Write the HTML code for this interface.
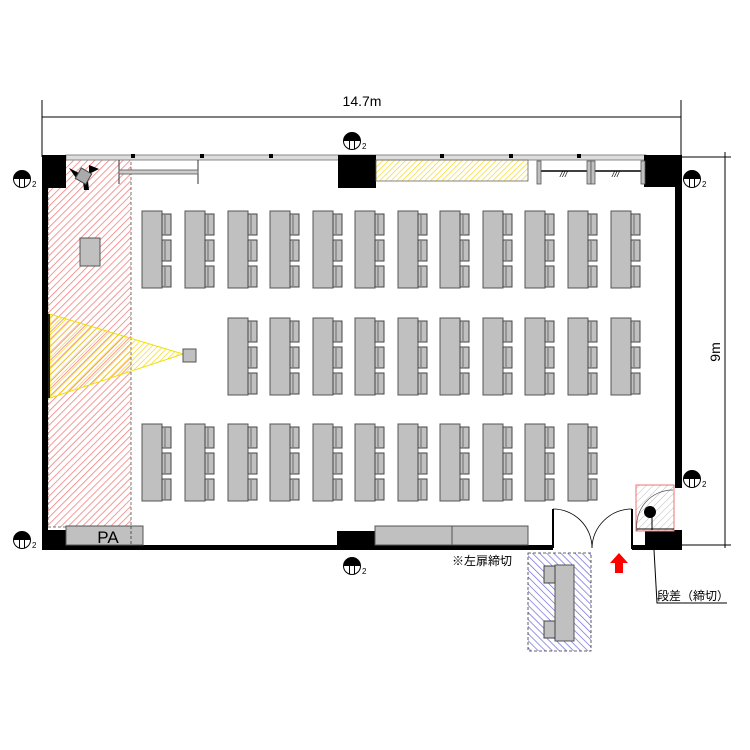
<!DOCTYPE html>
<html><head><meta charset="utf-8"><style>body{margin:0;background:#fff}svg{display:block}</style></head><body>
<svg width="750" height="750" viewBox="0 0 750 750" xmlns="http://www.w3.org/2000/svg" font-family="Liberation Sans, Noto Sans CJK JP, sans-serif">
<defs>
<pattern id="hr" width="5" height="5" patternUnits="userSpaceOnUse" patternTransform="rotate(45)"><rect width="5" height="5" fill="#fff"/><line x1="0" y1="0" x2="0" y2="5" stroke="#f08080" stroke-width="1.6"/></pattern>
<pattern id="hy" width="4" height="4" patternUnits="userSpaceOnUse" patternTransform="rotate(45)"><line x1="0" y1="0" x2="0" y2="4" stroke="#f5d000" stroke-width="1.2"/></pattern>
<pattern id="hb" width="5" height="5" patternUnits="userSpaceOnUse" patternTransform="rotate(-45)"><rect width="5" height="5" fill="#fff"/><line x1="0" y1="0" x2="0" y2="5" stroke="#6a6adf" stroke-width="1.4"/></pattern>
<pattern id="hg" width="5" height="5" patternUnits="userSpaceOnUse" patternTransform="rotate(45)"><rect width="5" height="5" fill="#fff"/><line x1="0" y1="0" x2="0" y2="5" stroke="#bbb" stroke-width="1"/></pattern>
<g id="desk">
<rect x="0" y="0" width="20" height="77" fill="#c0c0c0" stroke="#555" stroke-width="1"/>
<g fill="#c0c0c0" stroke="#444" stroke-width="1">
<rect x="20" y="3" width="9" height="21"/><rect x="20" y="29" width="9" height="21"/><rect x="20" y="55" width="9" height="21"/>
</g>
<g stroke="#555" stroke-width="0.8"><line x1="23" y1="4" x2="23" y2="23"/><line x1="23" y1="30" x2="23" y2="49"/><line x1="23" y1="56" x2="23" y2="75"/></g>
</g>
<g id="col">
<circle cx="0" cy="0" r="8.5" fill="#fff" stroke="#000" stroke-width="1"/>
<path d="M-8.5,0 A8.5,8.5 0 0 1 8.5,0 Z" fill="#000"/>
<line x1="-2.5" y1="0" x2="-2.5" y2="8" stroke="#000"/><line x1="2.5" y1="0" x2="2.5" y2="8" stroke="#000"/>
<text x="10" y="8" font-size="8">2</text>
</g>
</defs>

<!-- dimensions -->
<g stroke="#000" stroke-width="1">
<line x1="42" y1="100" x2="42" y2="157"/><line x1="681" y1="100" x2="681" y2="157"/>
<line x1="42" y1="117" x2="681" y2="117"/>
<line x1="682" y1="157" x2="731" y2="157"/><line x1="682" y1="545" x2="731" y2="545"/>
<line x1="725" y1="152" x2="725" y2="548"/>
</g>
<text x="362" y="106" font-size="14" text-anchor="middle">14.7m</text>
<text transform="translate(720,352) rotate(-90)" font-size="14" text-anchor="middle">9m</text>

<!-- red zone -->
<rect x="48" y="160" width="83" height="367" fill="url(#hr)" stroke="#777" stroke-dasharray="3,2" stroke-width="1"/>
<rect x="80" y="238" width="20" height="28" fill="#c0c0c0" stroke="#555"/>
<!-- projection -->
<polygon points="50,314 50,398 183,354" fill="url(#hy)" stroke="#f0e000" stroke-width="1"/>
<rect x="183" y="349" width="13" height="13" fill="#c0c0c0" stroke="#555"/>
<rect x="46" y="314" width="4" height="84" fill="#222"/>

<!-- top window line -->
<rect x="66" y="155" width="580" height="5" fill="#ddd" stroke="#888" stroke-width="1"/>
<g fill="#000"><rect x="131" y="154" width="4" height="4"/><rect x="200" y="154" width="4" height="4"/><rect x="269" y="154" width="4" height="4"/><rect x="440" y="154" width="4" height="4"/><rect x="509" y="154" width="4" height="4"/><rect x="577" y="154" width="4" height="4"/></g>
<!-- walls -->
<rect x="42" y="155" width="24" height="33" fill="#000"/>
<rect x="42" y="155" width="6" height="395" fill="#000"/>
<rect x="338" y="155" width="38" height="33" fill="#000"/>
<rect x="644" y="155" width="38" height="32" fill="#000"/>
<rect x="675" y="155" width="7" height="333" fill="#000"/>
<rect x="42" y="545" width="511" height="5" fill="#000"/>
<rect x="48" y="530" width="18" height="16" fill="#000"/>
<rect x="337" y="531" width="38" height="15" fill="#000"/>
<rect x="632" y="545" width="50" height="5" fill="#000"/>
<rect x="645" y="530" width="37" height="20" fill="#000"/>

<!-- top-left curtain/camera -->
<g stroke="#333" stroke-width="1"><line x1="119" y1="160" x2="119" y2="184"/><line x1="198" y1="160" x2="198" y2="184"/></g>
<rect x="119" y="170" width="79" height="4" fill="#ccc" stroke="#555" stroke-width="0.8"/>
<g transform="translate(83,177)">
<polygon points="-14,-9 -4,-4 -7,1" fill="#000"/><polygon points="6,-12 16,-8 6,-3" fill="#000"/><polygon points="0,4 5,4 6,13 1,13" fill="#000"/>
<rect x="-6" y="-7" width="12" height="12" fill="#aaa" stroke="#444" transform="rotate(30)"/>
</g>

<!-- yellow top rect -->
<rect x="376" y="160" width="152" height="21" fill="url(#hy)" stroke="#666" stroke-width="0.8"/>
<!-- top right partitions -->
<line x1="539" y1="171" x2="644" y2="171" stroke="#000" stroke-width="1.5"/>
<g fill="#c0c0c0" stroke="#555" stroke-width="0.8"><rect x="537" y="161" width="4" height="23"/><rect x="587" y="161" width="4" height="23"/><rect x="591" y="161" width="4" height="23"/><rect x="641" y="161" width="4" height="23"/></g>
<text x="560" y="177" font-size="9" font-style="italic">///</text><text x="612" y="177" font-size="9" font-style="italic">///</text>

<!-- desks row1 -->
<g>
<use href="#desk" x="142" y="211"/><use href="#desk" x="185" y="211"/><use href="#desk" x="228" y="211"/><use href="#desk" x="270" y="211"/><use href="#desk" x="313" y="211"/><use href="#desk" x="355" y="211"/><use href="#desk" x="398" y="211"/><use href="#desk" x="440" y="211"/><use href="#desk" x="483" y="211"/><use href="#desk" x="525" y="211"/><use href="#desk" x="568" y="211"/><use href="#desk" x="611" y="211"/>
<use href="#desk" x="228" y="318"/><use href="#desk" x="270" y="318"/><use href="#desk" x="313" y="318"/><use href="#desk" x="355" y="318"/><use href="#desk" x="398" y="318"/><use href="#desk" x="440" y="318"/><use href="#desk" x="483" y="318"/><use href="#desk" x="525" y="318"/><use href="#desk" x="568" y="318"/><use href="#desk" x="611" y="318"/>
<use href="#desk" x="142" y="424"/><use href="#desk" x="185" y="424"/><use href="#desk" x="228" y="424"/><use href="#desk" x="270" y="424"/><use href="#desk" x="313" y="424"/><use href="#desk" x="355" y="424"/><use href="#desk" x="398" y="424"/><use href="#desk" x="440" y="424"/><use href="#desk" x="483" y="424"/><use href="#desk" x="525" y="424"/><use href="#desk" x="568" y="424"/>
</g>

<!-- bottom items -->
<rect x="66" y="526" width="77" height="19" fill="#c0c0c0" stroke="#555"/>
<line x1="131" y1="526" x2="131" y2="545" stroke="#555" stroke-dasharray="3,2"/>
<text x="108" y="543" font-size="17" text-anchor="middle">PA</text>
<rect x="375" y="526" width="77" height="19" fill="#c0c0c0" stroke="#555"/>
<rect x="452" y="526" width="76" height="19" fill="#c0c0c0" stroke="#555"/>

<!-- door -->
<g stroke="#000" fill="none">
<path d="M553,509 L553,548" stroke-width="2"/>
<path d="M632,509 L632,549" stroke-width="2"/>
<path d="M553,509 A39,39 0 0 1 592,548" stroke-width="0.8"/>
<path d="M632,509 A40,40 0 0 0 592,548" stroke-width="0.8"/>
</g>
<!-- red box right -->
<rect x="636" y="485" width="38" height="46" fill="url(#hg)" stroke="#f07070" stroke-width="1"/>
<path d="M637,531 A36,36 0 0 1 673,490" fill="none" stroke="#555" stroke-width="0.7"/>
<line x1="637" y1="529" x2="674" y2="529" stroke="#000" stroke-width="1"/>
<circle cx="650" cy="512" r="6" fill="#000"/>
<line x1="652" y1="512" x2="652" y2="530" stroke="#000"/>
<polyline points="654,550 657,603 727,603" fill="none" stroke="#000" stroke-width="1"/>
<text x="657" y="600" font-size="12">段差（締切）</text>

<!-- arrow -->
<polygon points="619,553 628,563 623,563 623,573 615,573 615,563 610,563" fill="#f00"/>
<text x="452" y="565" font-size="12">※左扉締切</text>

<!-- blue box -->
<rect x="528" y="553" width="63" height="98" fill="url(#hb)" stroke="#333" stroke-dasharray="3,2" stroke-width="0.8"/>
<rect x="555" y="565" width="19" height="76" fill="#c0c0c0" stroke="#555"/>
<g fill="#c0c0c0" stroke="#444"><rect x="544" y="566" width="11" height="17"/><rect x="544" y="621" width="11" height="17"/></g>

<!-- columns symbols -->
<use href="#col" x="22" y="179"/>
<use href="#col" x="22" y="540"/>
<use href="#col" x="352" y="141"/>
<use href="#col" x="352" y="566"/>
<use href="#col" x="692" y="179"/>
<use href="#col" x="692" y="479"/>
</svg>
</body></html>
